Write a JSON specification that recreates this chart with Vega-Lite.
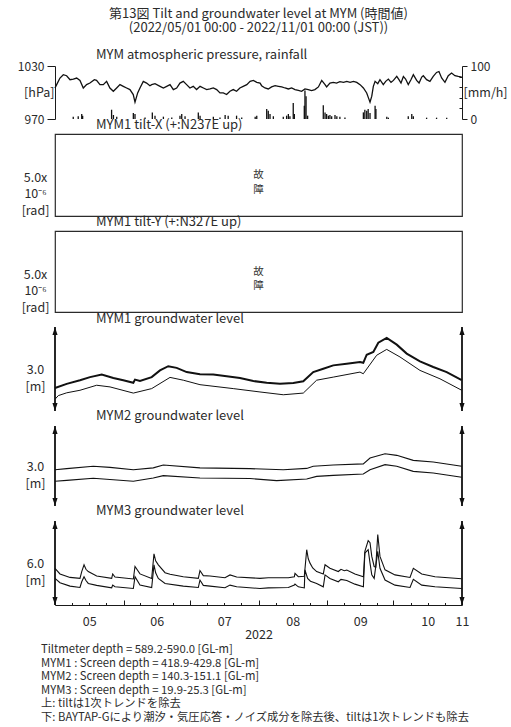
{
  "$schema": "https://vega.github.io/schema/vega-lite/v6.json",
  "background": "white",
  "padding": {"left": 17, "top": 7, "right": 6, "bottom": 4},
  "config": {
    "font": "Noto Sans CJK JP",
    "view": {"stroke": null},
    "axis": {
      "labelFont": "Noto Sans CJK JP",
      "titleFont": "Noto Sans CJK JP",
      "labelColor": "#2b2b2b",
      "titleColor": "#2b2b2b",
      "domainColor": "#1a1a1a",
      "tickColor": "#1a1a1a",
      "labelFontSize": 12,
      "titleFontSize": 12.5,
      "titleFontWeight": "normal",
      "grid": false
    },
    "title": {
      "anchor": "start",
      "frame": "group",
      "dx": 41,
      "fontSize": 13,
      "fontWeight": "normal",
      "color": "#2b2b2b",
      "baseline": "alphabetic",
      "offset": 2
    }
  },
  "title": {
    "text": "第13図 Tilt and groundwater level at MYM (時間値)",
    "subtitle": "(2022/05/01 00:00 - 2022/11/01 00:00 (JST))",
    "anchor": "middle",
    "dx": 0,
    "fontSize": 13,
    "subtitleFontSize": 13,
    "subtitleColor": "#2b2b2b",
    "subtitleFont": "Noto Sans CJK JP",
    "subtitlePadding": 1,
    "offset": 14.5
  },
  "datasets": {
    "pressure": [
      {"t": "2022-05-01T00:00", "p": 1005.1}, {"t": "2022-05-01T18:00", "p": 1008.9}, {"t": "2022-05-03T06:00", "p": 1016.4},
      {"t": "2022-05-04T18:00", "p": 1020.1}, {"t": "2022-05-06T06:00", "p": 1019.0}, {"t": "2022-05-07T19:00", "p": 1014.5},
      {"t": "2022-05-09T07:00", "p": 1015.2}, {"t": "2022-05-10T19:00", "p": 1016.4}, {"t": "2022-05-12T07:00", "p": 1013.7},
      {"t": "2022-05-13T19:00", "p": 1005.1}, {"t": "2022-05-15T07:00", "p": 1008.9}, {"t": "2022-05-16T19:00", "p": 1010.7},
      {"t": "2022-05-18T19:00", "p": 1014.5}, {"t": "2022-05-19T19:00", "p": 1013.7}, {"t": "2022-05-21T08:00", "p": 1008.9},
      {"t": "2022-05-22T20:00", "p": 1008.9}, {"t": "2022-05-24T08:00", "p": 1012.6}, {"t": "2022-05-25T20:00", "p": 1005.1},
      {"t": "2022-05-27T09:00", "p": 1001.4}, {"t": "2022-05-28T21:00", "p": 1005.1}, {"t": "2022-05-30T09:00", "p": 1008.9},
      {"t": "2022-05-31T21:00", "p": 1007.0}, {"t": "2022-06-02T09:00", "p": 1005.1}, {"t": "2022-06-03T21:00", "p": 1003.3},
      {"t": "2022-06-05T09:00", "p": 997.7}, {"t": "2022-06-06T04:00", "p": 989.1}, {"t": "2022-06-07T09:00", "p": 999.5},
      {"t": "2022-06-08T10:00", "p": 1005.1}, {"t": "2022-06-09T22:00", "p": 1012.6}, {"t": "2022-06-11T10:00", "p": 1010.7},
      {"t": "2022-06-12T22:00", "p": 1007.7}, {"t": "2022-06-13T17:00", "p": 1008.9}, {"t": "2022-06-15T05:00", "p": 1010.0},
      {"t": "2022-06-17T12:00", "p": 1007.0}, {"t": "2022-06-19T00:00", "p": 1005.1}, {"t": "2022-06-20T12:00", "p": 1007.0},
      {"t": "2022-06-22T00:00", "p": 1008.9}, {"t": "2022-06-23T12:00", "p": 1003.3}, {"t": "2022-06-25T00:00", "p": 1005.1},
      {"t": "2022-06-26T12:00", "p": 1010.7}, {"t": "2022-06-28T00:00", "p": 1012.6}, {"t": "2022-06-29T12:00", "p": 1008.9},
      {"t": "2022-07-01T00:00", "p": 1005.1}, {"t": "2022-07-02T12:00", "p": 1007.0}, {"t": "2022-07-04T00:00", "p": 1003.3},
      {"t": "2022-07-05T14:00", "p": 1007.0}, {"t": "2022-07-07T02:00", "p": 1005.1}, {"t": "2022-07-08T14:00", "p": 1003.3},
      {"t": "2022-07-10T02:00", "p": 1004.0}, {"t": "2022-07-11T14:00", "p": 1005.1}, {"t": "2022-07-13T02:00", "p": 1003.3},
      {"t": "2022-07-14T14:00", "p": 999.5}, {"t": "2022-07-16T02:00", "p": 999.5}, {"t": "2022-07-17T14:00", "p": 997.7},
      {"t": "2022-07-19T02:00", "p": 1001.4}, {"t": "2022-07-20T14:00", "p": 1003.3}, {"t": "2022-07-22T02:00", "p": 1001.4},
      {"t": "2022-07-23T14:00", "p": 1005.1}, {"t": "2022-07-25T02:00", "p": 1007.0}, {"t": "2022-07-26T17:00", "p": 1008.9},
      {"t": "2022-07-28T05:00", "p": 1012.6}, {"t": "2022-07-29T17:00", "p": 1013.7}, {"t": "2022-07-31T05:00", "p": 1011.5},
      {"t": "2022-08-01T17:00", "p": 1010.7}, {"t": "2022-08-02T10:00", "p": 1007.7}, {"t": "2022-08-03T22:00", "p": 1005.1},
      {"t": "2022-08-05T10:00", "p": 1004.0}, {"t": "2022-08-06T22:00", "p": 1006.3}, {"t": "2022-08-08T12:00", "p": 1007.7},
      {"t": "2022-08-10T00:00", "p": 1007.0}, {"t": "2022-08-11T12:00", "p": 1006.3}, {"t": "2022-08-13T00:00", "p": 1005.1},
      {"t": "2022-08-14T12:00", "p": 1004.0}, {"t": "2022-08-16T00:00", "p": 1005.1}, {"t": "2022-08-17T12:00", "p": 1003.3},
      {"t": "2022-08-19T00:00", "p": 1002.5}, {"t": "2022-08-20T12:00", "p": 1001.4}, {"t": "2022-08-22T00:00", "p": 1004.0},
      {"t": "2022-08-23T12:00", "p": 1003.3}, {"t": "2022-08-25T00:00", "p": 1002.2}, {"t": "2022-08-26T12:00", "p": 1003.3},
      {"t": "2022-08-28T02:00", "p": 1006.3}, {"t": "2022-08-29T14:00", "p": 1013.7}, {"t": "2022-08-31T02:00", "p": 1008.9},
      {"t": "2022-08-31T19:00", "p": 1006.3}, {"t": "2022-09-02T07:00", "p": 1010.7}, {"t": "2022-09-03T19:00", "p": 1011.5},
      {"t": "2022-09-05T07:00", "p": 1010.7}, {"t": "2022-09-06T19:00", "p": 1012.2}, {"t": "2022-09-08T10:00", "p": 1011.5},
      {"t": "2022-09-09T22:00", "p": 1012.6}, {"t": "2022-09-11T10:00", "p": 1011.5}, {"t": "2022-09-12T22:00", "p": 1012.6},
      {"t": "2022-09-14T10:00", "p": 1011.5}, {"t": "2022-09-15T22:00", "p": 1008.9}, {"t": "2022-09-17T10:00", "p": 1005.1},
      {"t": "2022-09-18T22:00", "p": 999.5}, {"t": "2022-09-19T17:00", "p": 993.9}, {"t": "2022-09-20T10:00", "p": 989.1},
      {"t": "2022-09-21T05:00", "p": 995.8}, {"t": "2022-09-21T22:00", "p": 1007.0}, {"t": "2022-09-22T17:00", "p": 1012.6},
      {"t": "2022-09-23T22:00", "p": 1010.0}, {"t": "2022-09-24T22:00", "p": 1014.5}, {"t": "2022-09-26T10:00", "p": 1008.9},
      {"t": "2022-09-27T12:00", "p": 1012.6}, {"t": "2022-09-28T17:00", "p": 1015.2}, {"t": "2022-09-29T22:00", "p": 1011.5},
      {"t": "2022-10-01T00:00", "p": 1013.7}, {"t": "2022-10-02T12:00", "p": 1018.2}, {"t": "2022-10-03T12:00", "p": 1014.5},
      {"t": "2022-10-04T10:00", "p": 1010.7}, {"t": "2022-10-05T12:00", "p": 1018.2}, {"t": "2022-10-06T12:00", "p": 1015.2},
      {"t": "2022-10-07T17:00", "p": 1008.9}, {"t": "2022-10-08T22:00", "p": 1014.5}, {"t": "2022-10-10T00:00", "p": 1020.1},
      {"t": "2022-10-11T12:00", "p": 1013.7}, {"t": "2022-10-12T14:00", "p": 1010.7}, {"t": "2022-10-13T19:00", "p": 1017.5},
      {"t": "2022-10-14T12:00", "p": 1019.0}, {"t": "2022-10-16T00:00", "p": 1014.5}, {"t": "2022-10-17T12:00", "p": 1012.6},
      {"t": "2022-10-19T00:00", "p": 1018.2}, {"t": "2022-10-20T12:00", "p": 1022.7}, {"t": "2022-10-21T14:00", "p": 1023.8},
      {"t": "2022-10-22T19:00", "p": 1016.4}, {"t": "2022-10-24T07:00", "p": 1011.5}, {"t": "2022-10-25T19:00", "p": 1019.0},
      {"t": "2022-10-27T07:00", "p": 1022.0}, {"t": "2022-10-28T19:00", "p": 1019.0}, {"t": "2022-10-30T07:00", "p": 1018.2},
      {"t": "2022-10-31T22:00", "p": 1017.5}
    ],
    "rain": [
      {"t": "2022-05-09T06:00", "r": 4.4}, {"t": "2022-05-11T12:00", "r": 5}, {"t": "2022-05-13T02:00", "r": 9.4},
      {"t": "2022-05-13T12:00", "r": 6}, {"t": "2022-05-26T14:00", "r": 17.5}, {"t": "2022-05-27T10:00", "r": 7.5},
      {"t": "2022-05-28T22:00", "r": 4.4}, {"t": "2022-06-05T10:00", "r": 11.3}, {"t": "2022-06-06T04:00", "r": 9.4},
      {"t": "2022-06-10T17:00", "r": 3}, {"t": "2022-06-14T00:00", "r": 12.5}, {"t": "2022-06-15T05:00", "r": 6.3},
      {"t": "2022-06-19T00:00", "r": 4.4}, {"t": "2022-06-22T19:00", "r": 3}, {"t": "2022-06-26T12:00", "r": 6.3},
      {"t": "2022-06-27T07:00", "r": 9.4}, {"t": "2022-06-28T19:00", "r": 5}, {"t": "2022-07-04T19:00", "r": 12.5},
      {"t": "2022-07-05T14:00", "r": 6.3}, {"t": "2022-07-11T14:00", "r": 4.4}, {"t": "2022-07-14T14:00", "r": 3},
      {"t": "2022-07-16T22:00", "r": 7.5}, {"t": "2022-07-18T07:00", "r": 6.3}, {"t": "2022-07-22T02:00", "r": 6.3},
      {"t": "2022-07-24T10:00", "r": 3}, {"t": "2022-07-30T12:00", "r": 4.4}, {"t": "2022-07-31T05:00", "r": 6.3},
      {"t": "2022-08-04T17:00", "r": 18.8}, {"t": "2022-08-05T10:00", "r": 15.6}, {"t": "2022-08-06T05:00", "r": 9.4},
      {"t": "2022-08-07T17:00", "r": 5}, {"t": "2022-08-12T05:00", "r": 4.4}, {"t": "2022-08-13T17:00", "r": 6.3},
      {"t": "2022-08-14T12:00", "r": 9.4}, {"t": "2022-08-15T05:00", "r": 5}, {"t": "2022-08-16T17:00", "r": 30},
      {"t": "2022-08-17T05:00", "r": 9.4}, {"t": "2022-08-21T17:00", "r": 25}, {"t": "2022-08-22T00:00", "r": 54},
      {"t": "2022-08-22T12:00", "r": 43}, {"t": "2022-08-23T05:00", "r": 6.3}, {"t": "2022-08-30T07:00", "r": 26},
      {"t": "2022-08-31T02:00", "r": 12.5}, {"t": "2022-08-31T19:00", "r": 9.4}, {"t": "2022-09-01T14:00", "r": 6.3},
      {"t": "2022-09-02T07:00", "r": 7.5}, {"t": "2022-09-03T02:00", "r": 5}, {"t": "2022-09-04T14:00", "r": 7.5},
      {"t": "2022-09-05T10:00", "r": 5}, {"t": "2022-09-06T19:00", "r": 4.4}, {"t": "2022-09-09T02:00", "r": 3},
      {"t": "2022-09-17T10:00", "r": 12.5}, {"t": "2022-09-18T02:00", "r": 17.5}, {"t": "2022-09-18T22:00", "r": 15.6},
      {"t": "2022-09-19T14:00", "r": 18.8}, {"t": "2022-09-20T10:00", "r": 11.3}, {"t": "2022-09-22T17:00", "r": 25},
      {"t": "2022-09-23T02:00", "r": 18.8}, {"t": "2022-09-28T00:00", "r": 4.4}, {"t": "2022-09-28T17:00", "r": 2.5},
      {"t": "2022-10-07T17:00", "r": 5}, {"t": "2022-10-09T07:00", "r": 9.4}, {"t": "2022-10-10T00:00", "r": 5},
      {"t": "2022-10-16T00:00", "r": 2.5}, {"t": "2022-10-20T12:00", "r": 2.5}, {"t": "2022-10-25T02:00", "r": 2.5}
    ],
    "gw1u": [
      {"t": "2022-05-01T00:00", "v": 0.82}, {"t": "2022-05-06T07:00", "v": 0.97}, {"t": "2022-05-12T07:00", "v": 1.10},
      {"t": "2022-05-16T20:00", "v": 1.21}, {"t": "2022-05-22T03:00", "v": 1.30}, {"t": "2022-05-27T09:00", "v": 1.18},
      {"t": "2022-05-31T21:00", "v": 1.10}, {"t": "2022-06-05T10:00", "v": 1.01}, {"t": "2022-06-06T04:00", "v": 1.12},
      {"t": "2022-06-08T10:00", "v": 1.07}, {"t": "2022-06-13T17:00", "v": 1.21}, {"t": "2022-06-17T11:00", "v": 1.45},
      {"t": "2022-06-21T05:00", "v": 1.60}, {"t": "2022-06-25T00:00", "v": 1.54}, {"t": "2022-06-29T13:00", "v": 1.39},
      {"t": "2022-07-05T13:00", "v": 1.31}, {"t": "2022-07-11T13:00", "v": 1.30}, {"t": "2022-07-17T15:00", "v": 1.24},
      {"t": "2022-07-23T15:00", "v": 1.18}, {"t": "2022-07-29T16:00", "v": 1.07}, {"t": "2022-08-04T17:00", "v": 1.01},
      {"t": "2022-08-10T17:00", "v": 0.97}, {"t": "2022-08-16T18:00", "v": 1.00}, {"t": "2022-08-21T06:00", "v": 1.06},
      {"t": "2022-08-25T18:00", "v": 1.39}, {"t": "2022-08-30T07:00", "v": 1.51}, {"t": "2022-09-03T19:00", "v": 1.63},
      {"t": "2022-09-09T21:00", "v": 1.69}, {"t": "2022-09-15T21:00", "v": 1.75}, {"t": "2022-09-17T09:00", "v": 1.72},
      {"t": "2022-09-18T22:00", "v": 2.01}, {"t": "2022-09-21T22:00", "v": 2.11}, {"t": "2022-09-24T04:00", "v": 2.44},
      {"t": "2022-09-27T23:00", "v": 2.61}, {"t": "2022-10-02T12:00", "v": 2.37}, {"t": "2022-10-07T00:00", "v": 2.05},
      {"t": "2022-10-13T00:00", "v": 1.77}, {"t": "2022-10-19T00:00", "v": 1.57}, {"t": "2022-10-25T02:00", "v": 1.39},
      {"t": "2022-10-31T21:00", "v": 1.10}
    ],
    "gw1l": [
      {"t": "2022-05-01T00:00", "v": 0.42}, {"t": "2022-05-02T12:00", "v": 0.55}, {"t": "2022-05-06T07:00", "v": 0.65},
      {"t": "2022-05-12T07:00", "v": 0.74}, {"t": "2022-05-19T20:00", "v": 0.92}, {"t": "2022-05-25T21:00", "v": 0.86},
      {"t": "2022-06-05T10:00", "v": 0.64}, {"t": "2022-06-13T17:00", "v": 0.80}, {"t": "2022-06-22T00:00", "v": 1.20},
      {"t": "2022-06-28T00:00", "v": 1.10}, {"t": "2022-07-05T13:00", "v": 0.94}, {"t": "2022-07-20T14:00", "v": 0.80},
      {"t": "2022-08-01T16:00", "v": 0.68}, {"t": "2022-08-12T05:00", "v": 0.58}, {"t": "2022-08-21T06:00", "v": 0.64},
      {"t": "2022-08-27T07:00", "v": 1.10}, {"t": "2022-09-03T19:00", "v": 1.21}, {"t": "2022-09-15T21:00", "v": 1.39},
      {"t": "2022-09-17T09:00", "v": 1.33}, {"t": "2022-09-23T10:00", "v": 1.99}, {"t": "2022-09-27T23:00", "v": 2.20},
      {"t": "2022-10-03T23:00", "v": 1.93}, {"t": "2022-10-13T00:00", "v": 1.45}, {"t": "2022-10-22T01:00", "v": 1.15},
      {"t": "2022-10-31T21:00", "v": 0.74}
    ],
    "gw2u": [
      {"t": "2022-05-01T00:00", "v": 1.36}, {"t": "2022-05-06T07:00", "v": 1.40}, {"t": "2022-05-18T07:00", "v": 1.49},
      {"t": "2022-05-25T21:00", "v": 1.45}, {"t": "2022-06-05T10:00", "v": 1.36}, {"t": "2022-06-14T10:00", "v": 1.43},
      {"t": "2022-06-18T23:00", "v": 1.54}, {"t": "2022-07-05T13:00", "v": 1.43}, {"t": "2022-07-28T04:00", "v": 1.40},
      {"t": "2022-08-12T05:00", "v": 1.36}, {"t": "2022-08-22T19:00", "v": 1.41}, {"t": "2022-08-25T18:00", "v": 1.49},
      {"t": "2022-09-03T19:00", "v": 1.54}, {"t": "2022-09-17T09:00", "v": 1.58}, {"t": "2022-09-20T10:00", "v": 1.80},
      {"t": "2022-09-27T05:00", "v": 1.96}, {"t": "2022-10-02T12:00", "v": 1.90}, {"t": "2022-10-09T23:00", "v": 1.71},
      {"t": "2022-10-19T00:00", "v": 1.65}, {"t": "2022-10-31T21:00", "v": 1.49}
    ],
    "gw2l": [
      {"t": "2022-05-01T00:00", "v": 0.93}, {"t": "2022-05-06T07:00", "v": 0.96}, {"t": "2022-05-18T07:00", "v": 1.04},
      {"t": "2022-06-05T10:00", "v": 0.93}, {"t": "2022-06-14T10:00", "v": 1.05}, {"t": "2022-06-18T23:00", "v": 1.14},
      {"t": "2022-07-05T13:00", "v": 1.05}, {"t": "2022-07-28T04:00", "v": 1.03}, {"t": "2022-08-09T05:00", "v": 0.95},
      {"t": "2022-08-22T19:00", "v": 1.01}, {"t": "2022-08-27T07:00", "v": 1.11}, {"t": "2022-09-03T19:00", "v": 1.15},
      {"t": "2022-09-17T09:00", "v": 1.20}, {"t": "2022-09-20T10:00", "v": 1.36}, {"t": "2022-09-27T05:00", "v": 1.55},
      {"t": "2022-10-02T12:00", "v": 1.49}, {"t": "2022-10-09T23:00", "v": 1.30}, {"t": "2022-10-19T00:00", "v": 1.24},
      {"t": "2022-10-31T21:00", "v": 1.08}
    ],
    "gw3u": [
      {"t": "2022-05-01T00:00", "v": 2.62}, {"t": "2022-05-03T06:00", "v": 2.22}, {"t": "2022-05-07T19:00", "v": 1.97},
      {"t": "2022-05-12T07:00", "v": 1.90}, {"t": "2022-05-13T02:00", "v": 2.39}, {"t": "2022-05-14T03:00", "v": 2.87},
      {"t": "2022-05-15T00:00", "v": 2.55}, {"t": "2022-05-16T01:00", "v": 2.39}, {"t": "2022-05-19T20:00", "v": 2.07},
      {"t": "2022-05-26T15:00", "v": 1.90}, {"t": "2022-05-27T02:00", "v": 2.22}, {"t": "2022-05-28T03:00", "v": 2.00},
      {"t": "2022-06-05T10:00", "v": 1.86}, {"t": "2022-06-06T04:00", "v": 2.75}, {"t": "2022-06-08T10:00", "v": 2.22},
      {"t": "2022-06-13T17:00", "v": 1.90}, {"t": "2022-06-14T18:00", "v": 3.66}, {"t": "2022-06-15T12:00", "v": 3.15},
      {"t": "2022-06-16T17:00", "v": 2.87}, {"t": "2022-06-19T18:00", "v": 2.31}, {"t": "2022-06-22T00:00", "v": 2.20},
      {"t": "2022-06-28T00:00", "v": 2.02}, {"t": "2022-07-04T19:00", "v": 1.90}, {"t": "2022-07-05T13:00", "v": 2.46},
      {"t": "2022-07-07T01:00", "v": 2.10}, {"t": "2022-07-10T02:00", "v": 2.07}, {"t": "2022-07-16T20:00", "v": 1.95},
      {"t": "2022-07-19T03:00", "v": 2.15}, {"t": "2022-07-22T03:00", "v": 2.00}, {"t": "2022-08-01T16:00", "v": 1.90},
      {"t": "2022-08-05T10:00", "v": 1.95}, {"t": "2022-08-14T12:00", "v": 1.95}, {"t": "2022-08-17T05:00", "v": 2.02},
      {"t": "2022-08-17T12:00", "v": 2.26}, {"t": "2022-08-19T00:00", "v": 2.02}, {"t": "2022-08-21T17:00", "v": 2.05},
      {"t": "2022-08-22T19:00", "v": 3.95}, {"t": "2022-08-23T12:00", "v": 3.30}, {"t": "2022-08-24T07:00", "v": 2.99},
      {"t": "2022-08-25T12:00", "v": 2.65}, {"t": "2022-08-27T07:00", "v": 2.39}, {"t": "2022-08-30T07:00", "v": 2.22},
      {"t": "2022-08-31T02:00", "v": 2.87}, {"t": "2022-09-02T07:00", "v": 2.62}, {"t": "2022-09-06T02:00", "v": 2.39},
      {"t": "2022-09-07T07:00", "v": 2.55}, {"t": "2022-09-08T19:00", "v": 2.45}, {"t": "2022-09-09T22:00", "v": 2.50},
      {"t": "2022-09-13T14:00", "v": 2.22}, {"t": "2022-09-17T10:00", "v": 2.02}, {"t": "2022-09-18T02:00", "v": 3.83},
      {"t": "2022-09-19T14:00", "v": 4.60}, {"t": "2022-09-20T10:00", "v": 4.45}, {"t": "2022-09-21T05:00", "v": 3.47},
      {"t": "2022-09-22T07:00", "v": 2.75}, {"t": "2022-09-23T00:00", "v": 2.70}, {"t": "2022-09-23T22:00", "v": 5.04},
      {"t": "2022-09-24T22:00", "v": 3.47}, {"t": "2022-09-27T05:00", "v": 2.51}, {"t": "2022-10-01T17:00", "v": 2.15},
      {"t": "2022-10-08T12:00", "v": 1.97}, {"t": "2022-10-10T00:00", "v": 2.62}, {"t": "2022-10-13T19:00", "v": 2.22},
      {"t": "2022-10-19T19:00", "v": 2.02}, {"t": "2022-10-31T21:00", "v": 1.88}
    ],
    "gw3l": [
      {"t": "2022-05-01T00:00", "v": 1.90}, {"t": "2022-05-03T06:00", "v": 1.59}, {"t": "2022-05-07T19:00", "v": 1.35},
      {"t": "2022-05-12T07:00", "v": 1.25}, {"t": "2022-05-13T02:00", "v": 1.66}, {"t": "2022-05-14T03:00", "v": 2.02},
      {"t": "2022-05-15T00:00", "v": 1.75}, {"t": "2022-05-16T01:00", "v": 1.54}, {"t": "2022-05-19T20:00", "v": 1.40},
      {"t": "2022-05-26T15:00", "v": 1.23}, {"t": "2022-05-27T02:00", "v": 1.42}, {"t": "2022-05-28T03:00", "v": 1.30},
      {"t": "2022-06-05T10:00", "v": 1.18}, {"t": "2022-06-06T04:00", "v": 2.02}, {"t": "2022-06-08T10:00", "v": 1.42},
      {"t": "2022-06-13T17:00", "v": 1.25}, {"t": "2022-06-14T18:00", "v": 2.87}, {"t": "2022-06-15T12:00", "v": 2.30},
      {"t": "2022-06-16T17:00", "v": 1.90}, {"t": "2022-06-19T18:00", "v": 1.54}, {"t": "2022-06-28T00:00", "v": 1.35},
      {"t": "2022-07-04T19:00", "v": 1.25}, {"t": "2022-07-05T13:00", "v": 1.78}, {"t": "2022-07-07T01:00", "v": 1.40},
      {"t": "2022-07-10T02:00", "v": 1.35}, {"t": "2022-07-16T20:00", "v": 1.23}, {"t": "2022-07-19T03:00", "v": 1.42},
      {"t": "2022-07-22T03:00", "v": 1.30}, {"t": "2022-08-01T16:00", "v": 1.18}, {"t": "2022-08-05T10:00", "v": 1.22},
      {"t": "2022-08-14T12:00", "v": 1.25}, {"t": "2022-08-17T05:00", "v": 1.42}, {"t": "2022-08-17T12:00", "v": 1.50},
      {"t": "2022-08-19T00:00", "v": 1.30}, {"t": "2022-08-21T17:00", "v": 1.22}, {"t": "2022-08-22T00:00", "v": 2.51},
      {"t": "2022-08-23T05:00", "v": 1.90}, {"t": "2022-08-24T12:00", "v": 1.70}, {"t": "2022-08-27T07:00", "v": 1.54},
      {"t": "2022-08-30T07:00", "v": 1.30}, {"t": "2022-08-31T02:00", "v": 2.15}, {"t": "2022-09-02T07:00", "v": 1.90},
      {"t": "2022-09-06T02:00", "v": 1.66}, {"t": "2022-09-07T07:00", "v": 1.83}, {"t": "2022-09-09T22:00", "v": 1.75},
      {"t": "2022-09-13T14:00", "v": 1.49}, {"t": "2022-09-17T10:00", "v": 1.30}, {"t": "2022-09-18T02:00", "v": 3.71},
      {"t": "2022-09-19T14:00", "v": 3.95}, {"t": "2022-09-20T10:00", "v": 2.99}, {"t": "2022-09-21T05:00", "v": 2.15},
      {"t": "2022-09-22T07:00", "v": 1.90}, {"t": "2022-09-23T22:00", "v": 3.83}, {"t": "2022-09-24T22:00", "v": 2.62},
      {"t": "2022-09-27T05:00", "v": 1.78}, {"t": "2022-10-01T17:00", "v": 1.42}, {"t": "2022-10-08T12:00", "v": 1.25},
      {"t": "2022-10-10T00:00", "v": 1.83}, {"t": "2022-10-13T19:00", "v": 1.42}, {"t": "2022-10-19T19:00", "v": 1.30},
      {"t": "2022-10-31T21:00", "v": 1.18}
    ],
    "ends": [{"t": "2022-05-01T00:00"}, {"t": "2022-11-01T00:00"}]
  },
  "spacing": 15,
  "bounds": "flush",
  "resolve": {"scale": {"x": "independent", "y": "independent"}},
  "vconcat": [
    {
      "width": 407,
      "height": 53,
      "title": {"text": "MYM atmospheric pressure, rainfall", "offset": -2},
      "layer": [
        {
          "data": {"name": "pressure"},
          "mark": {"type": "line", "color": "#111111", "strokeWidth": 1.3},
          "encoding": {
            "x": {"field": "t", "type": "temporal",
              "scale": {"domain": [{"year": 2022, "month": 5, "date": 1}, {"year": 2022, "month": 11, "date": 1}]},
              "axis": {"orient": "bottom", "offset": 0, "domain": true, "ticks": false, "labels": false, "title": null}},
            "y": {"field": "p", "type": "quantitative", "scale": {"domain": [970, 1030]},
              "axis": {"orient": "left", "offset": 0, "values": [970, 1030], "format": "d", "tickSize": 8, "labelPadding": 3,
                "title": "[hPa]", "titleAngle": 0, "titleAlign": "right", "titleBaseline": "middle", "titleX": -1, "titleY": 26.5}}
          }
        },
        {
          "data": {"name": "rain"},
          "mark": {"type": "rule", "color": "#111111", "strokeWidth": 1.3},
          "encoding": {
            "x": {"field": "t", "type": "temporal",
              "scale": {"domain": [{"year": 2022, "month": 5, "date": 1}, {"year": 2022, "month": 11, "date": 1}]},
              "axis": null},
            "y": {"field": "r", "type": "quantitative", "scale": {"domain": [0, 100]},
              "axis": {"orient": "right", "offset": 0, "values": [0, 20, 40, 60, 80, 100], "format": "d",
                "tickSize": {"condition": {"test": "datum.value == 0 || datum.value == 100", "value": 5}, "value": -3},
                "labelExpr": "datum.value == 0 || datum.value == 100 ? datum.label : ''", "labelPadding": 3,
                "title": "[mm/h]", "titleAngle": 0, "titleAlign": "left", "titleBaseline": "middle", "titleX": 1, "titleY": 26.5}},
            "y2": {"datum": 0}
          }
        }
      ],
      "resolve": {"scale": {"y": "independent"}, "axis": {"y": "independent"}}
    },
    {
      "width": 407,
      "height": 82,
      "view": {"stroke": "#2b2b2b", "strokeWidth": 1.2},
      "title": {"text": "MYM1 tilt-X (+:N237E up)"},
      "data": {"values": [{"t": "2022-08-01T00:00", "v": 0.5, "note": "故\n障"}]},
      "mark": {"type": "text", "lineBreak": "\n", "fontSize": 10.5, "lineHeight": 14.5, "fill": "#333333", "baseline": "middle"},
      "encoding": {
        "x": {"field": "t", "type": "temporal",
          "scale": {"domain": [{"year": 2022, "month": 5, "date": 1}, {"year": 2022, "month": 11, "date": 1}]}, "axis": null},
        "y": {"field": "v", "type": "quantitative", "scale": {"domain": [0, 1]},
          "axis": {"orient": "left", "domain": false, "ticks": false, "labels": false,
            "title": ["5.0x", "10⁻⁶", "[rad]"], "titleAngle": 0, "titleAlign": "center", "titleBaseline": "middle",
            "titleX": -20, "titleY": 43, "titleLineHeight": 16.5}},
        "text": {"field": "note"}
      }
    },
    {
      "width": 407,
      "height": 81,
      "view": {"stroke": "#2b2b2b", "strokeWidth": 1.2},
      "title": {"text": "MYM1 tilt-Y (+:N327E up)"},
      "data": {"values": [{"t": "2022-08-01T00:00", "v": 0.5, "note": "故\n障"}]},
      "mark": {"type": "text", "lineBreak": "\n", "fontSize": 10.5, "lineHeight": 14.5, "fill": "#333333", "baseline": "middle"},
      "encoding": {
        "x": {"field": "t", "type": "temporal",
          "scale": {"domain": [{"year": 2022, "month": 5, "date": 1}, {"year": 2022, "month": 11, "date": 1}]}, "axis": null},
        "y": {"field": "v", "type": "quantitative", "scale": {"domain": [0, 1]},
          "axis": {"orient": "left", "domain": false, "ticks": false, "labels": false,
            "title": ["5.0x", "10⁻⁶", "[rad]"], "titleAngle": 0, "titleAlign": "center", "titleBaseline": "middle",
            "titleX": -20, "titleY": 43, "titleLineHeight": 16.5}},
        "text": {"field": "note"}
      }
    },
    {
      "width": 407,
      "height": 84,
      "title": {"text": "MYM1 groundwater level", "offset": 0},
      "layer": [
        {
          "data": {"name": "gw1l"},
          "mark": {"type": "line", "color": "#111111", "strokeWidth": 1},
          "encoding": {
            "x": {"field": "t", "type": "temporal",
              "scale": {"domain": [{"year": 2022, "month": 5, "date": 1}, {"year": 2022, "month": 11, "date": 1}]}, "axis": null},
            "y": {"field": "v", "type": "quantitative", "scale": {"domain": [0, 3]},
              "axis": {"orient": "left", "domain": false, "ticks": false, "labels": false,
                "title": ["3.0", "[m]"], "titleAngle": 0, "titleAlign": "center", "titleBaseline": "middle",
                "titleX": -20, "titleY": 42, "titleLineHeight": 17}}
          }
        },
        {
          "data": {"name": "gw1u"},
          "mark": {"type": "line", "color": "#111111", "strokeWidth": 2},
          "encoding": {
            "x": {"field": "t", "type": "temporal"},
            "y": {"field": "v", "type": "quantitative"}
          }
        },
        {
          "data": {"name": "ends"},
          "mark": {"type": "rule", "color": "#111111", "strokeWidth": 1.8},
          "encoding": {"x": {"field": "t", "type": "temporal"}, "y": {"datum": 0}, "y2": {"datum": 3}}
        },
        {
          "data": {"name": "ends"},
          "mark": {"type": "point", "shape": "M0,0L0.32,1L-0.32,1Z", "filled": true, "size": 256, "color": "#111111", "opacity": 1},
          "encoding": {"x": {"field": "t", "type": "temporal"}, "y": {"datum": 3}}
        },
        {
          "data": {"name": "ends"},
          "mark": {"type": "point", "shape": "M0,0L0.32,-1L-0.32,-1Z", "filled": true, "size": 256, "color": "#111111", "opacity": 1},
          "encoding": {"x": {"field": "t", "type": "temporal"}, "y": {"datum": 0}}
        }
      ]
    },
    {
      "width": 407,
      "height": 80,
      "title": {"text": "MYM2 groundwater level"},
      "layer": [
        {
          "data": {"name": "gw2l"},
          "mark": {"type": "line", "color": "#111111", "strokeWidth": 1.1},
          "encoding": {
            "x": {"field": "t", "type": "temporal",
              "scale": {"domain": [{"year": 2022, "month": 5, "date": 1}, {"year": 2022, "month": 11, "date": 1}]}, "axis": null},
            "y": {"field": "v", "type": "quantitative", "scale": {"domain": [0, 3]},
              "axis": {"orient": "left", "domain": false, "ticks": false, "labels": false,
                "title": ["3.0", "[m]"], "titleAngle": 0, "titleAlign": "center", "titleBaseline": "middle",
                "titleX": -20, "titleY": 40, "titleLineHeight": 17}}
          }
        },
        {
          "data": {"name": "gw2u"},
          "mark": {"type": "line", "color": "#111111", "strokeWidth": 1.1},
          "encoding": {"x": {"field": "t", "type": "temporal"}, "y": {"field": "v", "type": "quantitative"}}
        },
        {
          "data": {"name": "ends"},
          "mark": {"type": "rule", "color": "#111111", "strokeWidth": 1.8},
          "encoding": {"x": {"field": "t", "type": "temporal"}, "y": {"datum": 0}, "y2": {"datum": 3}}
        },
        {
          "data": {"name": "ends"},
          "mark": {"type": "point", "shape": "M0,0L0.32,1L-0.32,1Z", "filled": true, "size": 256, "color": "#111111", "opacity": 1},
          "encoding": {"x": {"field": "t", "type": "temporal"}, "y": {"datum": 3}}
        },
        {
          "data": {"name": "ends"},
          "mark": {"type": "point", "shape": "M0,0L0.32,-1L-0.32,-1Z", "filled": true, "size": 256, "color": "#111111", "opacity": 1},
          "encoding": {"x": {"field": "t", "type": "temporal"}, "y": {"datum": 0}}
        }
      ]
    },
    {
      "width": 407,
      "height": 84,
      "title": {"text": "MYM3 groundwater level"},
      "layer": [
        {
          "data": {"name": "gw3l"},
          "mark": {"type": "line", "color": "#111111", "strokeWidth": 1.1},
          "encoding": {
            "x": {"field": "t", "type": "temporal",
              "scale": {"domain": [{"year": 2022, "month": 5, "date": 1}, {"year": 2022, "month": 11, "date": 1}]},
              "axis": {"orient": "bottom", "offset": 0, "domain": true, "labels": false, "tickSize": -5,
                "values": [
                  {"year": 2022, "month": 5, "date": 1}, {"year": 2022, "month": 6, "date": 1}, {"year": 2022, "month": 7, "date": 1},
                  {"year": 2022, "month": 8, "date": 1}, {"year": 2022, "month": 9, "date": 1}, {"year": 2022, "month": 10, "date": 1},
                  {"year": 2022, "month": 11, "date": 1}
                ],
                "title": null}},
            "y": {"field": "v", "type": "quantitative", "scale": {"domain": [0, 6]},
              "axis": {"orient": "left", "domain": false, "ticks": false, "labels": false,
                "title": ["6.0", "[m]"], "titleAngle": 0, "titleAlign": "center", "titleBaseline": "middle",
                "titleX": -20, "titleY": 42, "titleLineHeight": 17}}
          }
        },
        {
          "data": {"name": "gw3u"},
          "mark": {"type": "line", "color": "#111111", "strokeWidth": 1.1},
          "encoding": {
            "x": {"field": "t", "type": "temporal",
              "scale": {"domain": [{"year": 2022, "month": 5, "date": 1}, {"year": 2022, "month": 11, "date": 1}]},
              "axis": {"orient": "bottom", "offset": 0, "domain": false, "labels": false, "tickSize": -2.5,
                "values": [
                  {"year": 2022, "month": 5, "date": 8, "hours": 18}, {"year": 2022, "month": 5, "date": 16, "hours": 12}, {"year": 2022, "month": 5, "date": 24, "hours": 6},
                  {"year": 2022, "month": 6, "date": 8, "hours": 12}, {"year": 2022, "month": 6, "date": 16}, {"year": 2022, "month": 6, "date": 23, "hours": 12},
                  {"year": 2022, "month": 7, "date": 8, "hours": 18}, {"year": 2022, "month": 7, "date": 16, "hours": 12}, {"year": 2022, "month": 7, "date": 24, "hours": 6},
                  {"year": 2022, "month": 8, "date": 8, "hours": 18}, {"year": 2022, "month": 8, "date": 16, "hours": 12}, {"year": 2022, "month": 8, "date": 24, "hours": 6},
                  {"year": 2022, "month": 9, "date": 8, "hours": 12}, {"year": 2022, "month": 9, "date": 16}, {"year": 2022, "month": 9, "date": 23, "hours": 12},
                  {"year": 2022, "month": 10, "date": 8, "hours": 18}, {"year": 2022, "month": 10, "date": 16, "hours": 12}, {"year": 2022, "month": 10, "date": 24, "hours": 6}
                ],
                "title": [
                  "Tiltmeter depth = 589.2-590.0 [GL-m]",
                  "MYM1 : Screen depth = 418.9-429.8 [GL-m]",
                  "MYM2 : Screen depth = 140.3-151.1 [GL-m]",
                  "MYM3 : Screen depth = 19.9-25.3 [GL-m]",
                  "上: tiltは1次トレンドを除去",
                  "下: BAYTAP-Gにより潮汐・気圧応答・ノイズ成分を除去後、tiltは1次トレンドも除去"
                ],
                "titleFontSize": 11.3, "titleLineHeight": 13.6, "titleAngle": 0, "titleAlign": "left",
                "titleBaseline": "top", "titleX": -14.5, "titleY": 38.5}},
            "y": {"field": "v", "type": "quantitative", "scale": {"domain": [0, 6]}}
          }
        },
        {
          "data": {"name": "ends"},
          "mark": {"type": "rule", "color": "#111111", "strokeWidth": 1.8},
          "encoding": {
            "x": {"field": "t", "type": "temporal",
              "scale": {"domain": [{"year": 2022, "month": 5, "date": 1}, {"year": 2022, "month": 11, "date": 1}]},
              "axis": {"orient": "bottom", "offset": 0, "domain": false, "ticks": false, "labelPadding": 10,
                "format": "%m", "labelFontSize": 12.5, "labelOverlap": false, "labelFlush": false, "labelBound": false,
                "values": [
                  {"year": 2022, "month": 5, "date": 16, "hours": 12}, {"year": 2022, "month": 6, "date": 16},
                  {"year": 2022, "month": 7, "date": 16, "hours": 12}, {"year": 2022, "month": 8, "date": 16, "hours": 12},
                  {"year": 2022, "month": 9, "date": 16}, {"year": 2022, "month": 10, "date": 16, "hours": 12},
                  {"year": 2022, "month": 11, "date": 1}
                ],
                "title": "2022", "titleFontSize": 12.5, "titleBaseline": "alphabetic", "titleY": 33}},
            "y": {"datum": 0, "type": "quantitative", "scale": {"domain": [0, 6]}},
            "y2": {"datum": 6}
          }
        },
        {
          "data": {"name": "ends"},
          "mark": {"type": "point", "shape": "M0,0L0.32,1L-0.32,1Z", "filled": true, "size": 256, "color": "#111111", "opacity": 1},
          "encoding": {
            "x": {"field": "t", "type": "temporal",
              "scale": {"domain": [{"year": 2022, "month": 5, "date": 1}, {"year": 2022, "month": 11, "date": 1}]}, "axis": null},
            "y": {"datum": 6, "type": "quantitative", "scale": {"domain": [0, 6]}}
          }
        },
        {
          "data": {"name": "ends"},
          "mark": {"type": "point", "shape": "M0,0L0.32,-1L-0.32,-1Z", "filled": true, "size": 256, "color": "#111111", "opacity": 1},
          "encoding": {
            "x": {"field": "t", "type": "temporal",
              "scale": {"domain": [{"year": 2022, "month": 5, "date": 1}, {"year": 2022, "month": 11, "date": 1}]}, "axis": null},
            "y": {"datum": 0, "type": "quantitative", "scale": {"domain": [0, 6]}}
          }
        }
      ],
      "resolve": {"scale": {"x": "independent"}, "axis": {"x": "independent"}}
    }
  ]
}
